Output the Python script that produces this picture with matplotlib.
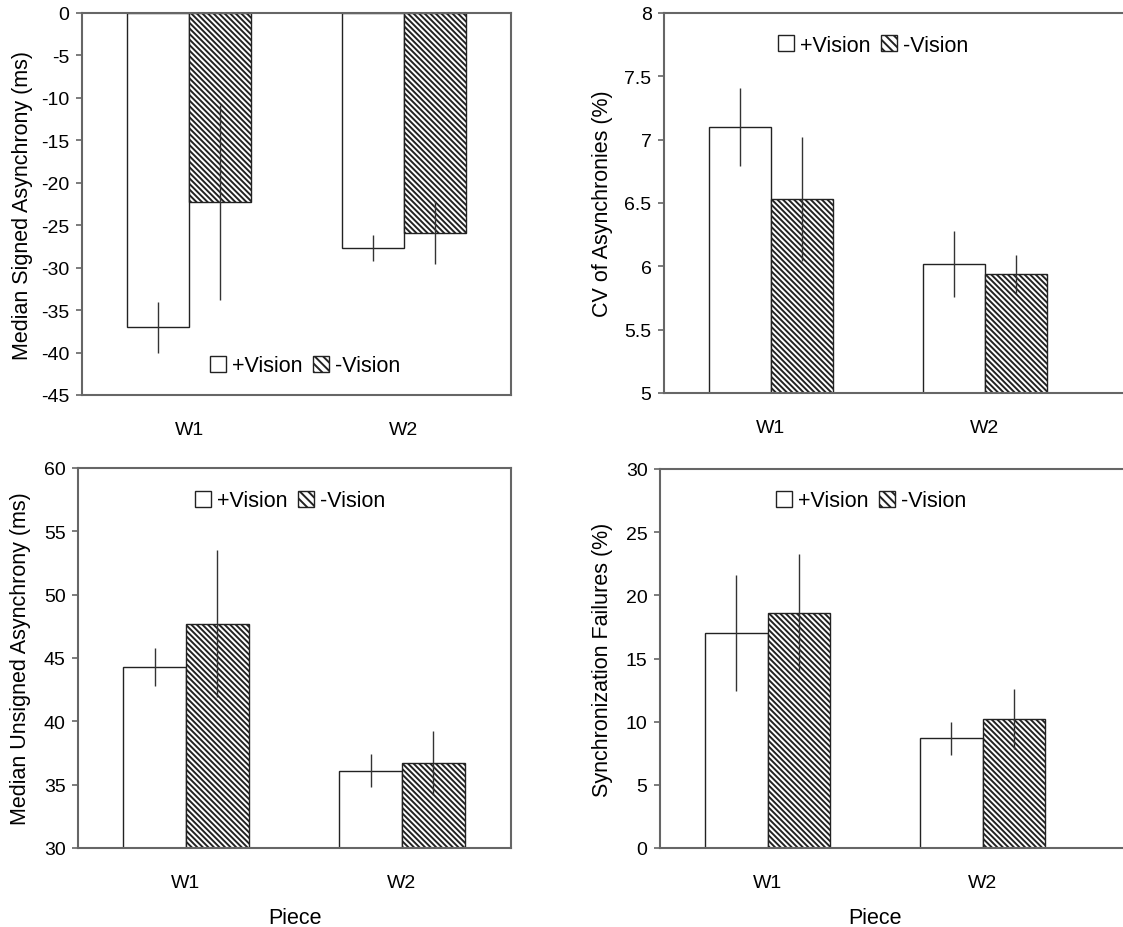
import numpy as np
import matplotlib
matplotlib.use('Agg')
import matplotlib.pyplot as plt
from matplotlib.patches import Patch
from matplotlib.ticker import FuncFormatter

plt.rcParams['font.family'] = ['Liberation Sans', 'DejaVu Sans']
plt.rcParams['hatch.linewidth'] = 1.4

pieces = ['W1', 'W2']
series = ['+Vision', '-Vision']

# values: [W1, W2]
signed_vis = [-37.0, -27.7]
signed_novis = [-22.3, -25.9]
signed_vis_err = [3.0, 1.5]
signed_novis_err = [11.5, 3.7]

cv_vis = [7.10, 6.02]
cv_novis = [6.53, 5.94]
cv_vis_err = [0.31, 0.26]
cv_novis_err = [0.49, 0.15]

unsigned_vis = [44.3, 36.1]
unsigned_novis = [47.7, 36.7]
unsigned_vis_err = [1.5, 1.3]
unsigned_novis_err = [5.8, 2.5]

fail_vis = [17.0, 8.7]
fail_novis = [18.6, 10.2]
fail_vis_err = [4.6, 1.3]
fail_novis_err = [4.7, 2.4]

panels = [
    # ylabel, vis, novis, vis_err, novis_err, ylim, yticks
    ('Median Signed Asynchrony (ms)', signed_vis, signed_novis, signed_vis_err, signed_novis_err,
     (-45, 0), np.arange(-45, 1, 5)),
    ('CV of Asynchronies (%)', cv_vis, cv_novis, cv_vis_err, cv_novis_err,
     (5, 8), np.arange(5, 8.01, 0.5)),
    ('Median Unsigned Asynchrony (ms)', unsigned_vis, unsigned_novis, unsigned_vis_err, unsigned_novis_err,
     (30, 60), np.arange(30, 61, 5)),
    ('Synchronization Failures (%)', fail_vis, fail_novis, fail_vis_err, fail_novis_err,
     (0, 30), np.arange(0, 31, 5)),
]

# axes boxes in pixels: left, top, right, bottom (right panels run past the image edge)
W, H = 1123, 928
boxes = [(82, 14, 511, 396), (664, 14, 1140, 394), (78, 469, 511, 849), (660, 470, 1140, 849)]
xspan = [214.5, 214, 216, 215]
ylab_x = [33, 613, 31, 613]
legend_pos = [(305, 367), (873, 46), (290, 502), (871, 502)]

fig = plt.figure(figsize=(W / 100, H / 100), dpi=100)
spine_col = '#666666'
hatch = '\\' * 6
x = np.arange(len(pieces))
bw = 0.29

for i, (ylabel, vis, novis, verr, nerr, ylim, yticks) in enumerate(panels):
    l, t, r, b = boxes[i]
    ax = fig.add_axes([l / W, 1 - b / H, (r - l) / W, (b - t) / H])
    ax.bar(x - bw / 2, vis, bw, color='white', edgecolor='#222222', linewidth=1.0, zorder=2)
    ax.bar(x + bw / 2, novis, bw, color='white', edgecolor='#222222', linewidth=1.0,
           hatch=hatch, zorder=2)
    ax.errorbar(x - bw / 2, vis, yerr=verr, fmt='none', ecolor='#333333', elinewidth=1.0,
                capsize=0, zorder=3)
    ax.errorbar(x + bw / 2, novis, yerr=nerr, fmt='none', ecolor='#333333', elinewidth=1.0,
                capsize=0, zorder=3)

    ax.set_xlim(-0.5, -0.5 + (r - l) / xspan[i])
    ax.set_ylim(*ylim)
    ax.set_yticks(yticks)
    ax.yaxis.set_major_formatter(FuncFormatter(lambda v, p: '{:g}'.format(round(v, 2))))
    ax.set_xticks(x)
    ax.set_xticklabels(pieces, fontsize=14)
    ax.tick_params(axis='x', length=0, pad=19)
    ax.tick_params(axis='y', direction='out', length=4, width=1.2, color=spine_col,
                   labelsize=14, pad=5)
    for s in ax.spines.values():
        s.set_color(spine_col)
        s.set_linewidth(1.5)

    ax.set_ylabel(ylabel, fontsize=15.5)
    ax.yaxis.set_label_coords((ylab_x[i] - l) / (r - l), 0.5)

    if i >= 2:
        ax.set_xlabel('Piece', fontsize=15.5)
        cx = (l + 511) / 2 if i == 2 else (l + 1091) / 2
        ax.xaxis.set_label_coords((cx - l) / (r - l), (b - 908) / (b - t))

    handles = [Patch(facecolor='white', edgecolor='#222222', linewidth=1.0, label=series[0]),
               Patch(facecolor='white', edgecolor='#222222', linewidth=1.0, hatch='\\\\\\\\',
                     label=series[1])]
    lx, ly = legend_pos[i]
    fig.legend(handles=handles, loc='center', bbox_to_anchor=(lx / W, 1 - ly / H),
               ncol=2, frameon=False, fontsize=15.5, handlelength=0.75, handleheight=0.75,
               handletextpad=0.25, columnspacing=0.5, borderpad=0)

fig.savefig('out.png', dpi=100)
